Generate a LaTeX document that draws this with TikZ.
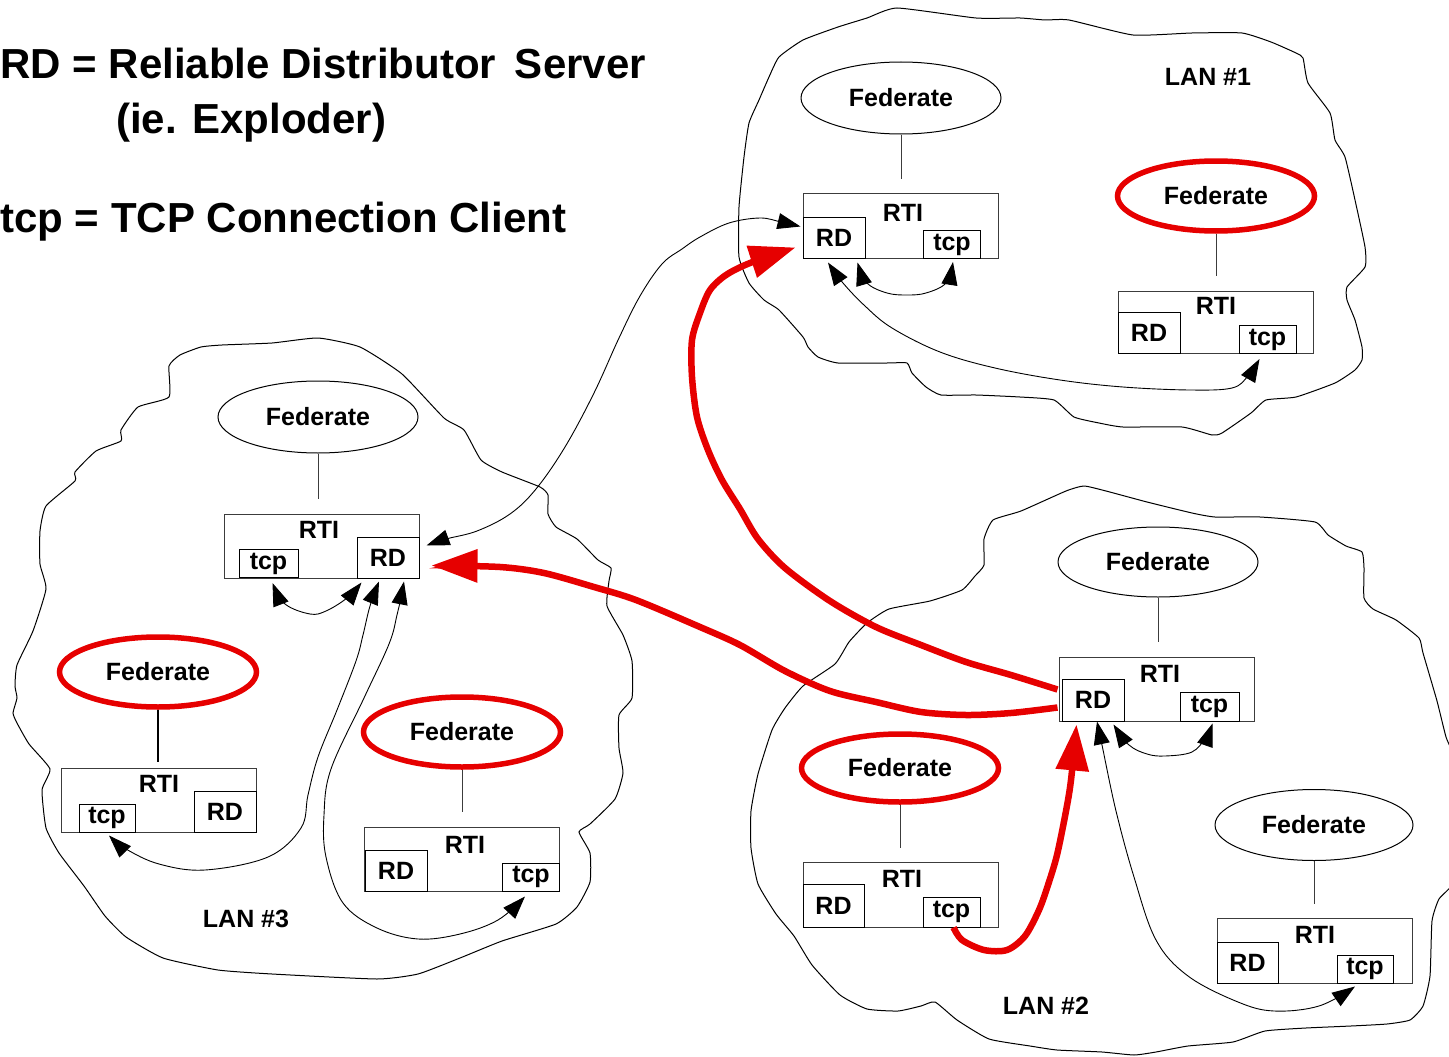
\documentclass[tikz,border=0pt]{standalone}
\usepackage{fontspec}
\setmainfont{Liberation Sans}
\usetikzlibrary{shapes.geometric,arrows.meta,calc}
\definecolor{fedred}{RGB}{230,0,0}
\definecolor{boxgray}{RGB}{60,60,60}
\newcommand{\fsz}{\fontsize{25}{30}\selectfont\bfseries}
\newcommand{\tsz}{\fontsize{42}{50}\selectfont\bfseries}
\begin{document}
\begin{tikzpicture}[x=1pt,y=-1pt,
  fed/.style={ellipse, draw=black, line width=1pt, minimum width=200pt, minimum height=72pt, inner sep=0pt, font=\fsz},
  fedr/.style={fed, draw=fedred, line width=5.5pt, minimum width=197pt, minimum height=70pt},
  rtibox/.style={draw=boxgray, line width=1pt, inner sep=0pt, minimum width=195pt, minimum height=65pt},
  subbox/.style={draw=black, line width=1pt, inner sep=0pt, font=\fsz},
  rdbox/.style={subbox, minimum width=62pt, minimum height=41pt},
  tcpbox/.style={subbox, minimum width=57pt, minimum height=28pt},
  lbl/.style={inner sep=0pt, font=\fsz},
  title/.style={inner sep=0pt, font=\tsz},
  stem/.style={line width=1pt, draw=boxgray},
  cloudline/.style={line width=1pt, draw=black},
  dbl/.style={line width=0.9pt, {Triangle[length=23pt,width=16pt]}-{Triangle[length=23pt,width=16pt]}},
  redarrow/.style={draw=fedred, line width=6.5pt, -{Triangle[length=46pt,width=32pt]}}
]
\useasboundingbox (0,0) rectangle (1449,1057);

% ---------- clouds ----------
\draw[cloudline] plot[smooth cycle, tension=0.3] coordinates {
(897,8) (976,18) (1020,18) (1045,20) (1069,20) (1133,35) (1192,33) (1242,33) (1271,42) (1296,53) (1303,58) (1308,83) (1330,113) (1335,140) (1345,157) (1355,200) (1365,247) (1365,267) (1347,287) (1347,300) (1355,320) (1362,347) (1362,360) (1355,370) (1335,383) (1296,397) (1266,400) (1251,413) (1222,433) (1212,435) (1182,427) (1123,427) (1099,423) (1074,417) (1054,400) (1020,397) (976,395) (941,395) (926,387) (912,373) (907,363) (887,363) (838,363) (818,357) (808,347) (803,337) (779,310) (764,300) (749,283) (739,257) (739,207) (744,157) (749,123) (759,100) (769,77) (779,57) (803,40) (838,27) (867,18)};

\draw[cloudline] plot[smooth cycle, tension=0.3] coordinates {
(222,345) (201,347) (180,355) (169,366) (169,397) (138,407) (121,430) (121,441) (96,451) (75,472) (75,481) (46,506) (40,531) (40,564) (46,589) (33,631) (17,665) (15,686) (17,698) (13,713) (17,723) (29,744) (50,769) (42,790) (46,828) (59,853) (84,886) (105,916) (126,937) (163,958) (218,970) (272,974) (377,979) (418,974) (460,958) (502,941) (556,924) (577,907) (590,882) (590,853) (579,832) (590,824) (615,799) (623,773) (619,748) (619,715) (632,698) (632,661) (623,635) (607,606) (609,581) (611,568) (598,560) (577,539) (556,527) (548,514) (548,495) (540,487) (502,472) (481,460) (464,430) (444,418) (402,374) (360,347) (318,338) (272,343)};

\draw[cloudline] plot[smooth cycle, tension=0.3] coordinates {
(1084,486) (1106,491) (1147,502) (1192,513) (1215,517) (1260,517) (1315,522) (1328,535) (1346,546) (1362,552) (1364,568) (1364,598) (1373,609) (1396,620) (1419,638) (1423,653) (1437,701) (1446,737) (1455,760) (1460,820) (1455,880) (1439,899) (1432,921) (1430,976) (1423,1006) (1410,1020) (1387,1024) (1351,1026) (1306,1028) (1265,1031) (1233,1042) (1188,1046) (1156,1052) (1134,1055) (1102,1052) (1057,1050) (1030,1046) (989,1039) (957,1020) (935,1002) (921,1006) (898,1011) (867,1009) (840,995) (812,965) (794,936) (776,914) (758,884) (751,848) (751,811) (758,774) (772,730) (785,708) (803,686) (835,664) (849,642) (867,623) (889,609) (930,601) (962,590) (975,576) (984,565) (984,539) (993,520) (1021,511) (1066,491)};

% ---------- title ----------
\node[title, anchor=base west] (t1) at (0,79) {RD = Reliable Distributor\hspace{0.45em}Server};
\node[title, anchor=base west] (t2) at (116,133) {(ie. Exploder)};
\node[title, anchor=base west] (t3) at (0,232) {tcp = TCP Connection Client};

% ---------- LAN 1 ----------
\node[lbl] (lan1) at (1208,77) {LAN \#1};
\node[fed] (f1a) at (901,98) {Federate};
\node[rtibox] (rti1a) at (900.5,225.5) {};
\node[lbl] (rti1at) at (903,213) {RTI};
\node[rdbox] (rd1a) at (834,237.5) {RD};
\node[tcpbox] (tcp1a) at (952,244.5) {tcp};
\draw[stem, shorten >=14pt] (f1a.south) -- (f1a.south |- rti1a.north);

\node[fedr] (f1b) at (1216,196) {Federate};
\node[rtibox, minimum height=62pt] (rti1b) at (1215.5,322) {};
\node[lbl] (rti1bt) at (1216,306) {RTI};
\node[rdbox] (rd1b) at (1149,333) {RD};
\node[tcpbox] (tcp1b) at (1267.5,339.5) {tcp};
\draw[stem, shorten >=15pt] (f1b.south) -- (f1b.south |- rti1b.north);

% ---------- LAN 3 ----------
\node[lbl] (lan3) at (246,919) {LAN \#3};
\node[fed] (f3a) at (318,417) {Federate};
\node[rtibox, minimum height=64pt] (rti3a) at (321.5,546) {};
\node[lbl] (rti3at) at (319,530) {RTI};
\node[tcpbox, minimum width=59pt] (tcp3a) at (268.5,563.5) {tcp};
\node[rdbox] (rd3a) at (388,557.5) {RD};
\draw[stem, shorten >=15pt] (f3a.south) -- (f3a.south |- rti3a.north);

\node[fedr] (f3b) at (158,672) {Federate};
\node[rtibox, minimum height=64pt] (rti3b) at (159,800) {};
\node[lbl] (rti3bt) at (159,784) {RTI};
\node[tcpbox, minimum width=56pt] (tcp3b) at (107,818) {tcp};
\node[rdbox] (rd3b) at (225,811.5) {RD};
\draw[line width=2.5pt, shorten >=6pt] (f3b.south) -- (f3b.south |- rti3b.north);

\node[fedr] (f3c) at (462,732) {Federate};
\node[rtibox, minimum height=64pt] (rti3c) at (462,859) {};
\node[lbl] (rti3ct) at (465,845) {RTI};
\node[rdbox] (rd3c) at (396,870.5) {RD};
\node[tcpbox] (tcp3c) at (531,877) {tcp};
\draw[stem, shorten >=15pt] (f3c.south) -- (f3c.south |- rti3c.north);

% ---------- LAN 2 ----------
\node[lbl] (lan2) at (1046,1006) {LAN \#2};
\node[fed, minimum height=70pt] (f2a) at (1158,562) {Federate};
\node[rtibox, minimum height=64pt] (rti2a) at (1156.5,689) {};
\node[lbl] (rti2at) at (1160,674) {RTI};
\node[rdbox, minimum height=42pt] (rd2a) at (1093,700) {RD};
\node[tcpbox, minimum width=59pt, minimum height=29pt] (tcp2a) at (1209.5,706.5) {tcp};
\draw[stem, shorten >=15pt] (f2a.south) -- (f2a.south |- rti2a.north);

\node[fedr, minimum height=68pt] (f2b) at (900,768) {Federate};
\node[rtibox] (rti2b) at (900.5,894.5) {};
\node[lbl] (rti2bt) at (902,879) {RTI};
\node[rdbox, minimum width=61pt, minimum height=43pt] (rd2b) at (833.5,905.5) {RD};
\node[tcpbox, minimum height=30pt] (tcp2b) at (951.5,912) {tcp};
\draw[stem, shorten >=14pt] (f2b.south) -- (f2b.south |- rti2b.north);

\node[fed, minimum width=198pt, minimum height=71pt] (f2c) at (1314,825) {Federate};
\node[rtibox] (rti2c) at (1314.5,950.5) {};
\node[lbl] (rti2ct) at (1315,935) {RTI};
\node[rdbox, minimum width=61pt] (rd2c) at (1247.5,962.5) {RD};
\node[tcpbox, minimum width=56pt] (tcp2c) at (1365,969) {tcp};
\draw[stem, shorten >=14pt] (f2c.south) -- (f2c.south |- rti2c.north);

% ---------- black connectors ----------
\draw[dbl] plot[smooth, tension=0.6] coordinates {($(rd1a.south east)+(-8,4)$) (867,283) (887,293) (907,295) (926,293) (946,283) ($(tcp1a.south)+(1,3)$)};
\draw[dbl] plot[smooth, tension=0.6] coordinates {($(rd1a.south)+(-6,4)$) (843,283) (865,306) (892,328) (940,352) (995,368) (1060,380) (1123,387) (1190,390) (1232,388) (1248,376) ($(tcp1b.south)+(-8,5)$)};
\draw[dbl] plot[smooth, tension=0.6] coordinates {($(rd3a.east)+(7,-12)$) (446,539) (477,531) (510,514) (536,489) (565,447) (594,393) (619,338) (640,296) (662,264) (682,249) (700,237) (729,223) (760,218) (781,222) ($(rd1a.north west)+(-2,10)$)};
\draw[dbl] plot[smooth, tension=0.6] coordinates {($(tcp3a.south)+(4,5)$) (285,604) (310,614) (326,611) (347,598) ($(rd3a.south west)+(5,4)$)};
\draw[dbl] plot[smooth, tension=0.6] coordinates {($(rd3a.south)+(-9,3)$) (370,606) (363,635) (356,661) (337,710) (318,757) (308,795) (301,828) (268,857) (205,870) (159,864) (126,849) ($(tcp3b.south)+(2,3)$)};
\draw[dbl] plot[smooth, tension=0.6] coordinates {($(rd3a.south)+(16,3)$) (397,615) (389,644) (364,698) (331,769) (324,815) (326,857) (343,903) (377,928) (418,939) (460,934) (498,920) ($(tcp3c.south)+(-6,5)$)};
\draw[dbl] plot[smooth, tension=0.6] coordinates {($(rd2a.south east)+(-11,3)$) (1129,745) (1147,754) (1165,756) (1192,752) (1206,737) ($(tcp2a.south)+(3,2)$)};
\draw[dbl] plot[smooth, tension=0.6] coordinates {($(rd2a.south)+(4,0)$) (1102,745) (1116,811) (1134,877) (1156,940) (1188,976) (1238,1002) (1274,1011) (1319,1006) ($(tcp2c.south)+(-10,3)$)};

% ---------- red connectors ----------
\draw[redarrow] plot[smooth, tension=0.5] coordinates {($(rd2a.north west)+(-4,11)$) (1011,675) (966,662) (921,645) (876,627) (830,601) (785,568) (758,539) (740,509) (722,480) (708,450) (697,417) (692,377) (692,340) (700,313) (710,290) (726,275) (750,263) ($(rd1a.west)+(-7,10)$)};
\draw[redarrow] plot[smooth, tension=0.5] coordinates {($(rd2a.north west)+(-4,29)$) (1011,713) (966,715) (921,712) (876,702) (830,691) (785,671) (740,645) (700,627) (636,600) (594,587) (544,573) (500,567) ($(rd3a.east)+(12,8)$)};
\draw[redarrow] plot[smooth, tension=0.5] coordinates {($(tcp2b.south)+(2,0)$) (962,940) (984,950) (1007,950) (1025,936) (1039,910) (1048,885) (1057,855) (1066,811) (1071,780) ($(rd2a.south west)+(15,3)$)};
\end{tikzpicture}
\end{document}
